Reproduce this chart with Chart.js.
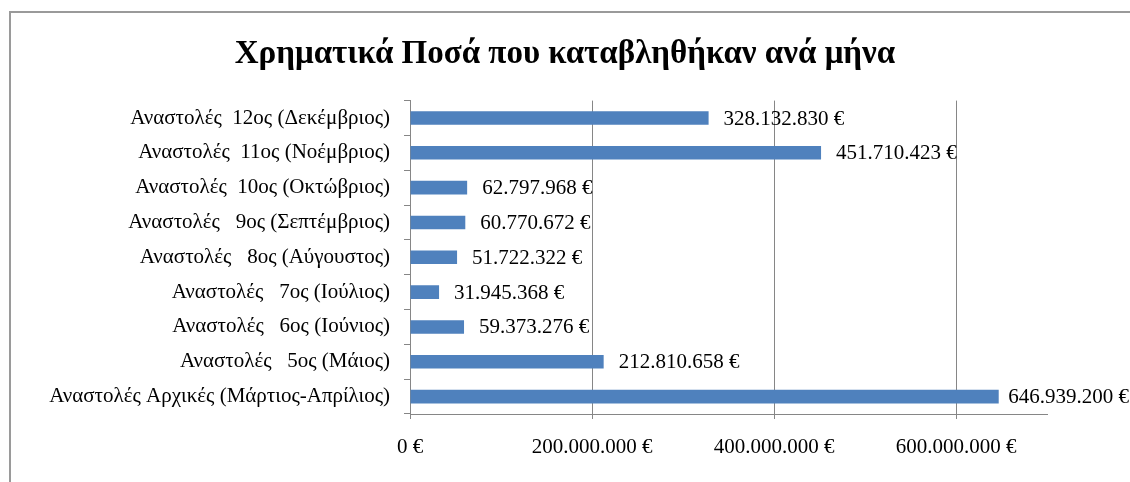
<!DOCTYPE html>
<html>
<head>
<meta charset="utf-8">
<script src="https://cdn.jsdelivr.net/npm/chart.js@4.4.1/dist/chart.umd.min.js"></script>
<style>
    body { margin: 0; background: #fff; }
    #frame { position: absolute; left: 9px; top: 11px; width: 1300px; height: 600px;
             border-left: 2px solid #9a9a9a; border-top: 2px solid #9a9a9a; }
    #wrap { position: absolute; left: 0; top: 0; width: 1130px; height: 482px; }
</style>
</head>
<body>
<div id="frame"></div>
<div id="wrap"><canvas id="amounts-chart" width="1130" height="482"></canvas></div>
<script>
// categories, top to bottom
const months = [
    'Αναστολές  12ος (Δεκέμβριος)',
    'Αναστολές  11ος (Νοέμβριος)',
    'Αναστολές  10ος (Οκτώβριος)',
    'Αναστολές   9ος (Σεπτέμβριος)',
    'Αναστολές   8ος (Αύγουστος)',
    'Αναστολές   7ος (Ιούλιος)',
    'Αναστολές   6ος (Ιούνιος)',
    'Αναστολές   5ος (Μάιος)',
    'Αναστολές Αρχικές (Μάρτιος-Απρίλιος)'
];
const amounts = [328132830, 451710423, 62797968, 60770672, 51722322, 31945368, 59373276, 212810658, 646939200];
const xTicks = [0, 200000000, 400000000, 600000000];
const axisMax = 700000000;

function euro(v) {
    return String(Math.round(v)).replace(/\B(?=(\d{3})+(?!\d))/g, '.') + ' €';
}

const serif = "'Liberation Serif', 'Times New Roman', serif";

// value labels to the right of each bar (kept inside the canvas, like Excel does)
const barLabels = {
    id: 'barLabels',
    afterDatasetsDraw(chart) {
        const ctx = chart.ctx;
        const meta = chart.getDatasetMeta(0);
        ctx.save();
        ctx.font = '21px ' + serif;
        ctx.fillStyle = '#000';
        ctx.textAlign = 'left';
        ctx.textBaseline = 'middle';
        meta.data.forEach((bar, i) => {
            const text = euro(amounts[i]);
            const w = ctx.measureText(text).width;
            const x = Math.min(bar.x + 15, chart.width - 1 - w);
            ctx.fillText(text, x, bar.y + 1);
        });
        ctx.restore();
    }
};

var ctx = document.getElementById('amounts-chart').getContext('2d');
var chart = new Chart(ctx, {
    type: 'bar',
    data: {
        labels: months,
        datasets: [{
            data: amounts,
            backgroundColor: '#4f81bd',
            borderWidth: 0,
            barPercentage: 0.39,
            categoryPercentage: 1
        }]
    },
    options: {
        indexAxis: 'y',
        responsive: false,
        animation: false,
        layout: { padding: 0 },
        plugins: {
            legend: { display: false },
            tooltip: { enabled: false },
            title: {
                display: true,
                text: 'Χρηματικά Ποσά που καταβληθήκαν ανά μήνα',
                color: '#000',
                font: { family: serif, size: 33, weight: 'bold' },
                padding: { top: 35, bottom: 26 }
            }
        },
        scales: {
            x: {
                min: 0,
                max: axisMax,
                afterBuildTicks(scale) { scale.ticks = xTicks.map(v => ({ value: v })); },
                ticks: {
                    color: '#000',
                    font: { family: serif, size: 21 },
                    padding: 16,
                    callback: (v) => euro(v)
                },
                grid: { color: '#868686', tickLength: 5, drawTicks: true },
                border: { color: '#868686' },
                afterFit(scale) { scale.height = 68; }
            },
            y: {
                ticks: {
                    color: '#000',
                    font: { family: serif, size: 21 },
                    padding: 14,
                    autoSkip: false
                },
                grid: { drawOnChartArea: false, color: '#868686', tickLength: 6, offset: true },
                border: { color: '#868686' },
                afterFit(scale) { scale.width = 410; }
            },
            // empty axis that keeps room on the right for the value labels
            spacer: {
                axis: 'y',
                position: 'right',
                display: true,
                grid: { display: false },
                ticks: { display: false },
                border: { display: false },
                afterFit(scale) { scale.width = 83; }
            }
        }
    },
    plugins: [barLabels]
});
</script>
</body>
</html>
